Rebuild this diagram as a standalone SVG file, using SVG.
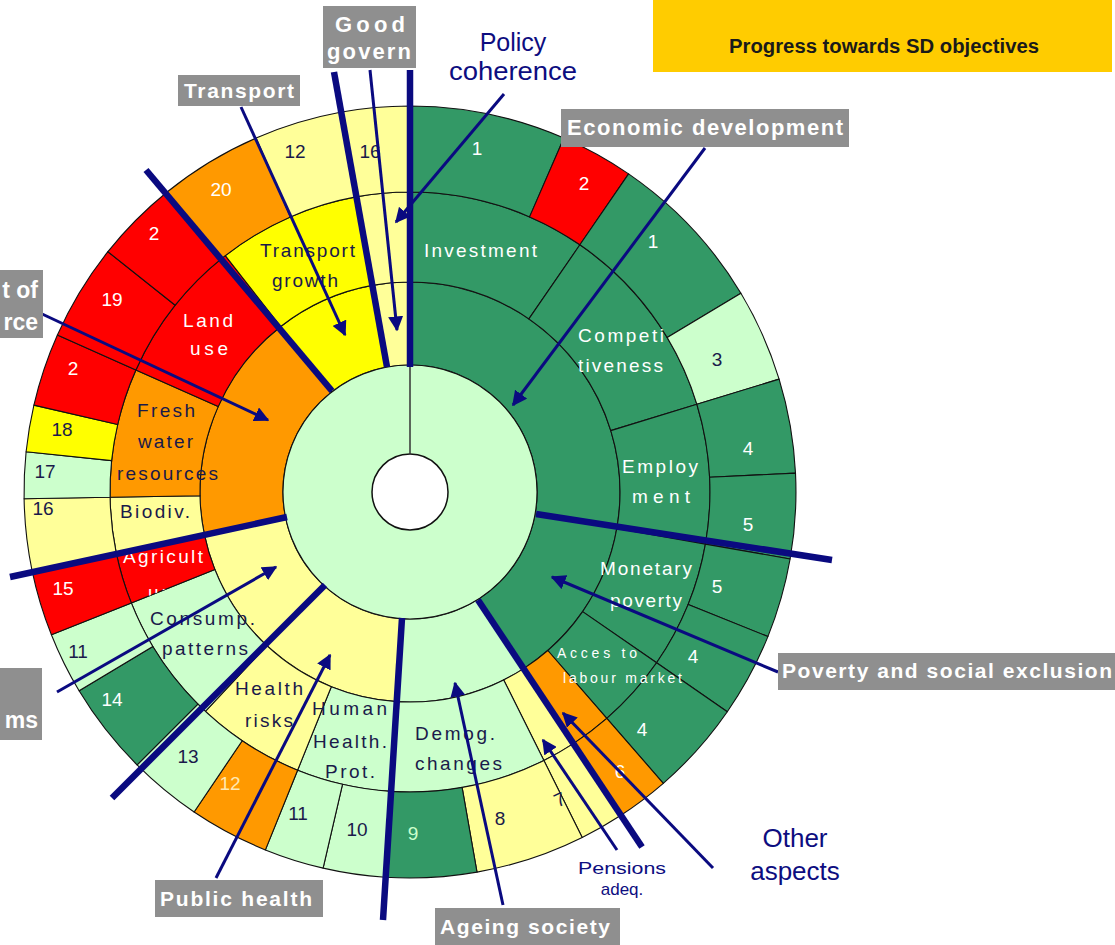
<svg xmlns="http://www.w3.org/2000/svg" width="1115" height="945" viewBox="0 0 1115 945">
<style>
.c{stroke:#111;stroke-width:1.1;stroke-linejoin:round}
.g{fill:#339966}.lg{fill:#ccffcc}.ly{fill:#ffff99}.y{fill:#ffff00}.o{fill:#ff9900}.r{fill:#ff0000}
text{font-family:"Liberation Sans",Arial,sans-serif}
.t{font-size:19px;fill:#fff}
.d{font-size:19px;fill:#1a1a4a}
.n{font-size:19px;text-anchor:middle}
.w{fill:#fff}.k{fill:#1a1a4a}
.box{fill:#8f8f8f}
.bl{font-size:21px;font-weight:bold;fill:#fff}
.nv{fill:#0d0d80}
.thick{stroke:#0a0a80;stroke-width:6.5;fill:none;stroke-linecap:butt}
.arr{stroke:#0a0a80;stroke-width:3;fill:none;marker-end:url(#ah)}
</style>
<defs>
<marker id="ah" viewBox="0 0 10 10" refX="9" refY="5" markerWidth="5" markerHeight="5" orient="auto"><path d="M0,0 L10,5 L0,10 z" fill="#0a0a80"/></marker>
<clipPath id="agriclip"><path d="M131.3,602.9 A300 300 0 0 1 116.2,552.8 L204.4,534.6 A210 210 0 0 0 214.9,569.6 Z"/></clipPath>
</defs>
<rect width="1115" height="945" fill="#fff"/>

<g id="ring-themes">
<path class="c g" d="M410,282 A210 210 0 0 1 524.4,668.1 L479.2,598.5 A127 127 0 0 0 410,365 Z"/>
<path class="c lg" d="M524.4,668.1 A210 210 0 0 1 396.5,701.6 L401.8,618.7 A127 127 0 0 0 479.2,598.5 Z"/>
<path class="c ly" d="M396.5,701.6 A210 210 0 0 1 204.4,534.6 L285.6,517.8 A127 127 0 0 0 401.8,618.7 Z"/>
<path class="c o" d="M204.4,534.6 A210 210 0 0 1 280.7,326.5 L331.8,391.9 A127 127 0 0 0 285.6,517.8 Z"/>
<path class="c y" d="M280.7,326.5 A210 210 0 0 1 372.1,285.4 L387.1,367.1 A127 127 0 0 0 331.8,391.9 Z"/>
<path class="c ly" d="M372.1,285.4 A210 210 0 0 1 410,282 L410,365 A127 127 0 0 0 387.1,367.1 Z"/>
</g>

<g id="ring-subthemes">
<path class="c g" d="M410,192 A300 300 0 0 1 579.9,244.8 L528.9,318.9 A210 210 0 0 0 410,282 Z"/>
<path class="c g" d="M579.9,244.8 A300 300 0 0 1 696.9,404.3 L610.8,430.6 A210 210 0 0 0 528.9,318.9 Z"/>
<path class="c g" d="M696.9,404.3 A300 300 0 0 1 705.4,544.1 L616.8,528.5 A210 210 0 0 0 610.8,430.6 Z"/>
<path class="c g" d="M705.4,544.1 A300 300 0 0 1 656.6,662.8 L582.6,611.6 A210 210 0 0 0 616.8,528.5 Z"/>
<path class="c g" d="M656.6,662.8 A300 300 0 0 1 606.8,718.4 L547.8,650.5 A210 210 0 0 0 582.6,611.6 Z"/>
<path class="c o" d="M606.8,718.4 A300 300 0 0 1 573.4,743.6 L524.4,668.1 A210 210 0 0 0 547.8,650.5 Z"/>
<path class="c ly" d="M573.4,743.6 A300 300 0 0 1 543.9,760.5 L503.7,679.9 A210 210 0 0 0 524.4,668.1 Z"/>
<path class="c lg" d="M543.9,760.5 A300 300 0 0 1 390.6,791.4 L396.5,701.6 A210 210 0 0 0 503.7,679.9 Z"/>
<path class="c lg" d="M390.6,791.4 A300 300 0 0 1 297.6,770.2 L331.3,686.7 A210 210 0 0 0 396.5,701.6 Z"/>
<path class="c ly" d="M297.6,770.2 A300 300 0 0 1 205.4,711.4 L266.8,645.6 A210 210 0 0 0 331.3,686.7 Z"/>
<path class="c lg" d="M205.4,711.4 A300 300 0 0 1 131.3,602.9 L214.9,569.6 A210 210 0 0 0 266.8,645.6 Z"/>
<path class="c r" d="M131.3,602.9 A300 300 0 0 1 116.2,552.8 L204.4,534.6 A210 210 0 0 0 214.9,569.6 Z"/>
<path class="c ly" d="M116.2,552.8 A300 300 0 0 1 110.1,497.2 L200,495.7 A210 210 0 0 0 204.4,534.6 Z"/>
<path class="c o" d="M110.1,497.2 A300 300 0 0 1 135.9,370 L218.2,406.6 A210 210 0 0 0 200,495.7 Z"/>
<path class="c r" d="M135.9,370 A300 300 0 0 1 225.3,255.6 L280.7,326.5 A210 210 0 0 0 218.2,406.6 Z"/>
<path class="c y" d="M225.3,255.6 A300 300 0 0 1 355.8,196.9 L372.1,285.4 A210 210 0 0 0 280.7,326.5 Z"/>
<path class="c ly" d="M355.8,196.9 A300 300 0 0 1 410,192 L410,282 A210 210 0 0 0 372.1,285.4 Z"/>
</g>

<g id="ring-indicators">
<path class="c g" d="M410,106 A386 386 0 0 1 563.9,138 L529.6,216.9 A300 300 0 0 0 410,192 Z"/>
<path class="c r" d="M563.9,138 A386 386 0 0 1 628.6,173.9 L579.9,244.8 A300 300 0 0 0 529.6,216.9 Z"/>
<path class="c g" d="M628.6,173.9 A386 386 0 0 1 740.9,293.2 L667.2,337.5 A300 300 0 0 0 579.9,244.8 Z"/>
<path class="c lg" d="M740.9,293.2 A386 386 0 0 1 779.1,379.1 L696.9,404.3 A300 300 0 0 0 667.2,337.5 Z"/>
<path class="c g" d="M779.1,379.1 A386 386 0 0 1 795.5,473.1 L709.6,477.3 A300 300 0 0 0 696.9,404.3 Z"/>
<path class="c g" d="M795.5,473.1 A386 386 0 0 1 790.1,559 L705.4,544.1 A300 300 0 0 0 709.6,477.3 Z"/>
<path class="c g" d="M790.1,559 A386 386 0 0 1 767.9,636.6 L688.2,604.4 A300 300 0 0 0 705.4,544.1 Z"/>
<path class="c g" d="M767.9,636.6 A386 386 0 0 1 727.3,711.7 L656.6,662.8 A300 300 0 0 0 688.2,604.4 Z"/>
<path class="c g" d="M727.3,711.7 A386 386 0 0 1 663.3,783.3 L606.8,718.4 A300 300 0 0 0 656.6,662.8 Z"/>
<path class="c o" d="M663.3,783.3 A386 386 0 0 1 620.2,815.7 L573.4,743.6 A300 300 0 0 0 606.8,718.4 Z"/>
<path class="c ly" d="M620.2,815.7 A386 386 0 0 1 582.2,837.4 L543.9,760.5 A300 300 0 0 0 573.4,743.6 Z"/>
<path class="c ly" d="M582.2,837.4 A386 386 0 0 1 477,872.1 L462.1,787.4 A300 300 0 0 0 543.9,760.5 Z"/>
<path class="c g" d="M477,872.1 A386 386 0 0 1 385.1,877.2 L390.6,791.4 A300 300 0 0 0 462.1,787.4 Z"/>
<path class="c lg" d="M385.1,877.2 A386 386 0 0 1 323.1,868.1 L342.5,784.3 A300 300 0 0 0 390.6,791.4 Z"/>
<path class="c lg" d="M323.1,868.1 A386 386 0 0 1 265.4,849.9 L297.6,770.2 A300 300 0 0 0 342.5,784.3 Z"/>
<path class="c o" d="M265.4,849.9 A386 386 0 0 1 194.1,812 L242.2,740.7 A300 300 0 0 0 297.6,770.2 Z"/>
<path class="c lg" d="M194.1,812 A386 386 0 0 1 137.1,764.9 L197.9,704.1 A300 300 0 0 0 242.2,740.7 Z"/>
<path class="c g" d="M137.1,764.9 A386 386 0 0 1 79.1,690.8 L152.8,646.5 A300 300 0 0 0 197.9,704.1 Z"/>
<path class="c lg" d="M79.1,690.8 A386 386 0 0 1 51.4,634.7 L131.3,602.9 A300 300 0 0 0 152.8,646.5 Z"/>
<path class="c r" d="M51.4,634.7 A386 386 0 0 1 32,570.3 L116.2,552.8 A300 300 0 0 0 131.3,602.9 Z"/>
<path class="c ly" d="M32,570.3 A386 386 0 0 1 24.1,498.8 L110.1,497.2 A300 300 0 0 0 116.2,552.8 Z"/>
<path class="c lg" d="M24.1,498.8 A386 386 0 0 1 26.1,451.7 L111.6,460.6 A300 300 0 0 0 110.1,497.2 Z"/>
<path class="c y" d="M26.1,451.7 A386 386 0 0 1 33.9,405.1 L117.7,424.5 A300 300 0 0 0 111.6,460.6 Z"/>
<path class="c r" d="M33.9,405.1 A386 386 0 0 1 57.4,335 L135.9,370 A300 300 0 0 0 117.7,424.5 Z"/>
<path class="c r" d="M57.4,335 A386 386 0 0 1 107.9,251.7 L175.2,305.2 A300 300 0 0 0 135.9,370 Z"/>
<path class="c r" d="M107.9,251.7 A386 386 0 0 1 167.1,192 L221.2,258.9 A300 300 0 0 0 175.2,305.2 Z"/>
<path class="c o" d="M167.1,192 A386 386 0 0 1 256.1,138 L290.4,216.9 A300 300 0 0 0 221.2,258.9 Z"/>
<path class="c ly" d="M256.1,138 A386 386 0 0 1 340.3,112.3 L355.8,196.9 A300 300 0 0 0 290.4,216.9 Z"/>
<path class="c ly" d="M340.3,112.3 A386 386 0 0 1 410,106 L410,192 A300 300 0 0 0 355.8,196.9 Z"/>
</g>

<g id="core">
<circle cx="410" cy="492" r="127" class="c lg"/>
<circle cx="410" cy="492" r="38" fill="#fff" stroke="#111" stroke-width="1.5"/>
<line x1="410" y1="454" x2="410" y2="365" stroke="#333" stroke-width="1.5"/>
</g>

<g id="subtheme-labels">
<text class="t" x="424" y="257" textLength="113" lengthAdjust="spacing">Investment</text>
<text class="t" x="578" y="342" textLength="86" lengthAdjust="spacing">Competi</text>
<text class="t" x="578" y="372" textLength="85" lengthAdjust="spacing">tiveness</text>
<text class="t" x="622" y="473" textLength="76" lengthAdjust="spacing">Employ</text>
<text class="t" x="632" y="503" textLength="58" lengthAdjust="spacing">ment</text>
<text class="t" x="600" y="575" textLength="92" lengthAdjust="spacing">Monetary</text>
<text class="t" x="610" y="607" textLength="72" lengthAdjust="spacing">poverty</text>
<text class="t" x="557" y="658" style="font-size:14px" textLength="80" lengthAdjust="spacing">Acces to</text>
<text class="t" x="563" y="683" style="font-size:14px" textLength="119" lengthAdjust="spacing">labour market</text>
<text class="d" x="415" y="740" textLength="80" lengthAdjust="spacing">Demog.</text>
<text class="d" x="415" y="770" textLength="87" lengthAdjust="spacing">changes</text>
<text class="d" x="312" y="715" textLength="75" lengthAdjust="spacing">Human</text>
<text class="d" x="313" y="748" textLength="74" lengthAdjust="spacing">Health.</text>
<text class="d" x="325" y="778" textLength="50" lengthAdjust="spacing">Prot.</text>
<text class="d" x="235" y="695" textLength="68" lengthAdjust="spacing">Health</text>
<text class="d" x="245" y="727" textLength="48" lengthAdjust="spacing">risks</text>
<text class="d" x="150" y="625" textLength="105" lengthAdjust="spacing">Consump.</text>
<text class="d" x="162" y="655" textLength="86" lengthAdjust="spacing">patterns</text>
<text class="t" x="123" y="563" textLength="80" lengthAdjust="spacing">Agricult</text>
<text class="t" x="148" y="599" textLength="34" lengthAdjust="spacing" clip-path="url(#agriclip)">ure</text>
<text class="d" x="120" y="518" textLength="70" lengthAdjust="spacing">Biodiv.</text>
<text class="d" x="137" y="417" textLength="58" lengthAdjust="spacing">Fresh</text>
<text class="d" x="138" y="448" textLength="55" lengthAdjust="spacing">water</text>
<text class="d" x="117" y="480" textLength="101" lengthAdjust="spacing">resources</text>
<text class="t" x="183" y="327" textLength="50" lengthAdjust="spacing">Land</text>
<text class="t" x="190" y="355" textLength="38" lengthAdjust="spacing">use</text>
<text class="d" x="260" y="257" textLength="95" lengthAdjust="spacing">Transport</text>
<text class="d" x="272" y="287" textLength="66" lengthAdjust="spacing">growth</text>
</g>

<g id="indicator-numbers">
<text class="n w" x="477" y="155">1</text>
<text class="n w" x="584" y="190">2</text>
<text class="n w" x="653" y="248">1</text>
<text class="n k" x="717" y="366">3</text>
<text class="n w" x="748" y="455">4</text>
<text class="n w" x="748" y="531">5</text>
<text class="n w" x="717" y="593">5</text>
<text class="n w" x="693" y="663">4</text>
<text class="n w" x="642" y="736">4</text>
<text class="n w" x="620" y="778">6</text>
<text class="n k" x="560" y="806" transform="rotate(-25 560 800)">7</text>
<text class="n k" x="500" y="825">8</text>
<text class="n" x="413" y="840" fill="#ccffcc">9</text>
<text class="n k" x="357" y="836">10</text>
<text class="n k" x="298" y="820">11</text>
<text class="n" x="230" y="790" fill="#ffe8b0">12</text>
<text class="n k" x="188" y="763">13</text>
<text class="n w" x="112" y="706">14</text>
<text class="n k" x="78" y="658">11</text>
<text class="n w" x="63" y="595">15</text>
<text class="n k" x="43" y="515">16</text>
<text class="n k" x="45" y="478">17</text>
<text class="n k" x="62" y="436">18</text>
<text class="n w" x="73" y="375">2</text>
<text class="n w" x="112" y="306">19</text>
<text class="n w" x="154" y="240">2</text>
<text class="n w" x="221" y="196">20</text>
<text class="n k" x="295" y="158">12</text>
<text class="n k" x="370" y="158">16</text>
</g>

<g id="connectors">
<line class="thick" x1="410" y1="70" x2="410" y2="367"/>
<line class="thick" x1="334" y1="72" x2="387" y2="367"/>
<line class="thick" x1="146" y1="170" x2="332" y2="391"/>
<line class="thick" x1="10" y1="577" x2="287" y2="517"/>
<line class="thick" x1="112" y1="798" x2="325" y2="585"/>
<line class="thick" x1="402" y1="618" x2="383" y2="920"/>
<line class="thick" x1="478" y1="600" x2="642" y2="847"/>
<line class="thick" x1="536" y1="514" x2="832" y2="560"/>
<line class="arr" x1="370" y1="70" x2="397" y2="330"/>
<line class="arr" x1="241" y1="107" x2="345" y2="335"/>
<line class="arr" x1="504" y1="94" x2="396" y2="222"/>
<line class="arr" x1="705" y1="148" x2="513" y2="405"/>
<line class="arr" x1="40" y1="313" x2="268" y2="420"/>
<line class="arr" x1="57" y1="692" x2="276" y2="567"/>
<line class="arr" x1="216" y1="878" x2="330" y2="655"/>
<line class="arr" x1="503" y1="905" x2="455" y2="683"/>
<line class="arr" x1="617" y1="850" x2="543" y2="740"/>
<line class="arr" x1="713" y1="868" x2="563" y2="713"/>
<line class="arr" x1="778" y1="672" x2="552" y2="577"/>
</g>

<g id="label-good-governance">
<rect class="box" x="323" y="6" width="93" height="62"/>
<text class="bl" x="335" y="32" style="font-size:22px" textLength="70" lengthAdjust="spacing">Good</text>
<text class="bl" x="327" y="59" style="font-size:22px" textLength="84" lengthAdjust="spacing">govern</text>
</g>
<g id="label-transport">
<rect class="box" x="178" y="75" width="122" height="31"/>
<text class="bl" x="184" y="98" textLength="110" lengthAdjust="spacing">Transport</text>
</g>
<g id="label-policy-coherence">
<text class="nv" x="513" y="51" text-anchor="middle" style="font-size:25px">Policy</text>
<text class="nv" x="513" y="80" text-anchor="middle" style="font-size:25px" textLength="128" lengthAdjust="spacingAndGlyphs">coherence</text>
</g>
<g id="label-economic-development">
<rect class="box" x="561" y="109" width="288" height="38"/>
<text class="bl" x="567" y="135" style="font-size:22px" textLength="276" lengthAdjust="spacing">Economic development</text>
</g>
<g id="label-progress">
<rect x="653" y="0" width="459" height="72" fill="#ffcc00"/>
<text x="884" y="53" text-anchor="middle" style="font-size:20px;font-weight:bold" fill="#1a1a1a" textLength="310" lengthAdjust="spacingAndGlyphs">Progress towards SD objectives</text>
</g>
<g id="label-natural-resources">
<rect class="box" x="0" y="270" width="43" height="68"/>
<text class="bl" x="38" y="298" text-anchor="end" style="font-size:23px">t of</text>
<text class="bl" x="38" y="330" text-anchor="end" style="font-size:23px">rce</text>
</g>
<g id="label-consumption">
<rect class="box" x="0" y="668" width="42" height="72"/>
<text class="bl" x="38" y="728" text-anchor="end" style="font-size:23px">ms</text>
</g>
<g id="label-poverty">
<rect class="box" x="778" y="653" width="337" height="37"/>
<text class="bl" x="782" y="678" textLength="330" lengthAdjust="spacing">Poverty and social exclusion</text>
</g>
<g id="label-public-health">
<rect class="box" x="155" y="880" width="168" height="37"/>
<text class="bl" x="160" y="906" textLength="152" lengthAdjust="spacing">Public health</text>
</g>
<g id="label-ageing">
<rect class="box" x="435" y="908" width="185" height="37"/>
<text class="bl" x="440" y="934" textLength="170" lengthAdjust="spacing">Ageing society</text>
</g>
<g id="label-pensions">
<text class="nv" x="622" y="874" text-anchor="middle" style="font-size:17px" textLength="88" lengthAdjust="spacingAndGlyphs">Pensions</text>
<text class="nv" x="622" y="895" text-anchor="middle" style="font-size:17px">adeq.</text>
</g>
<g id="label-other-aspects">
<text class="nv" x="795" y="847" text-anchor="middle" style="font-size:26px">Other</text>
<text class="nv" x="795" y="880" text-anchor="middle" style="font-size:26px">aspects</text>
</g>
</svg>
